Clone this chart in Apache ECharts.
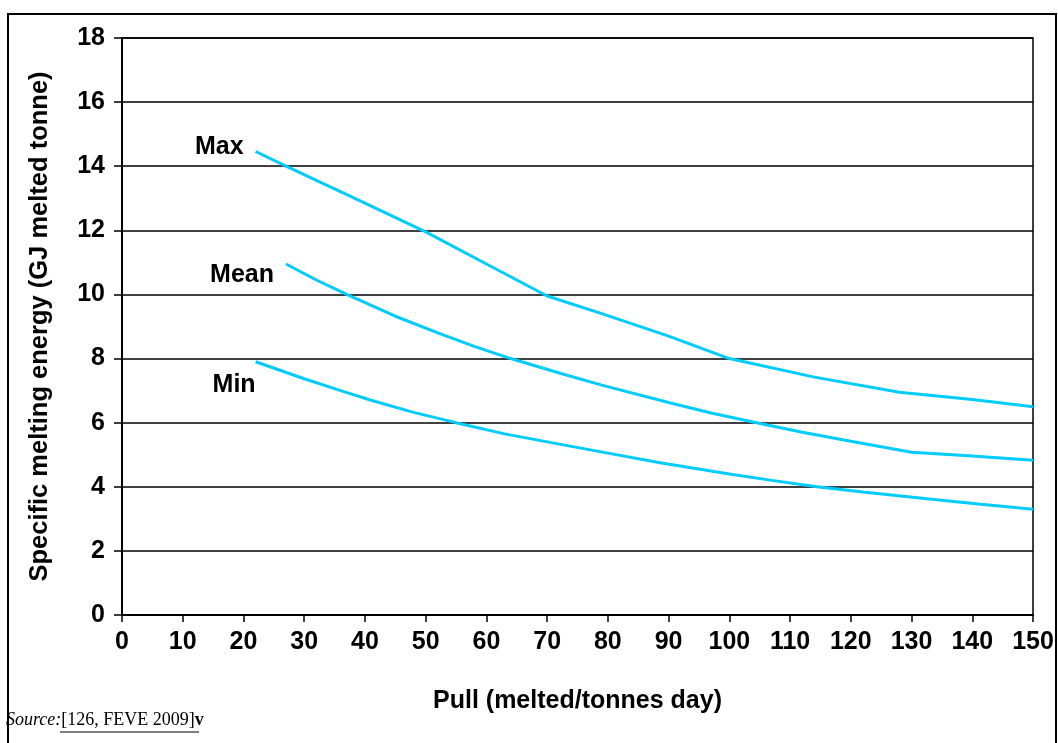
<!DOCTYPE html>
<html>
<head>
<meta charset="utf-8">
<script src="https://cdn.jsdelivr.net/npm/echarts@6/dist/echarts.min.js"></script>
<style>
html,body{margin:0;padding:0;background:#fff;}
#chart{width:1058px;height:743px;}
</style>
</head>
<body>
<div id="chart"></div>
<script>
const xTicks = [0,10,20,30,40,50,60,70,80,90,100,110,120,130,140,150];
const yTicks = [0,2,4,6,8,10,12,14,16,18];
const seriesNames = ['Max','Mean','Min'];
const maxX = [22,27,40,50,60,70,79,90,100,114,128,140,150];
const maxY = [14.46,14.0,12.85,11.95,10.95,9.95,9.4,8.7,8.0,7.42,6.95,6.72,6.5];
const meanX = [27,32,37,45,52,58,64,72,79,90,97,104.5,112,120,130,140,150];
const meanY = [10.95,10.45,10.0,9.32,8.8,8.38,8.0,7.55,7.17,6.63,6.3,6.0,5.7,5.42,5.08,4.96,4.83];
const minX = [22,30,36,41,48,55,63,72,80,88.6,100,107,114.4,122,132.5,141,150];
const minY = [7.9,7.37,7.0,6.7,6.32,6.0,5.65,5.33,5.05,4.75,4.4,4.2,4.0,3.84,3.63,3.46,3.3];

const font = 'Liberation Sans, Arial, sans-serif';
const lineColor = '#00CCFF';
const chart = echarts.init(document.getElementById('chart'));
function lineSeries(name, xs, ys){
  return {name:name, type:'line', data:xs.map((x,i)=>[x, ys[i]]), smooth:false,
    symbol:'none', lineStyle:{color:lineColor, width:3}};
}
chart.setOption({
  animation:false,
  backgroundColor:'#fff',
  grid:{left:122, top:38, right:25, bottom:128, show:true, borderColor:'#000', borderWidth:1.5},
  xAxis:{
    type:'value', min:xTicks[0], max:xTicks[xTicks.length-1], interval:10,
    name:'Pull (melted/tonnes day)', nameLocation:'middle', nameGap:74,
    nameTextStyle:{fontFamily:font, fontWeight:'bold', fontSize:25, color:'#000'},
    axisLine:{show:true, lineStyle:{color:'#000', width:2}},
    axisTick:{show:true, inside:false, length:7, lineStyle:{color:'#000', width:1.5}},
    axisLabel:{fontFamily:font, fontWeight:'bold', fontSize:25, color:'#000', margin:15},
    splitLine:{show:false}
  },
  yAxis:{
    type:'value', min:yTicks[0], max:yTicks[yTicks.length-1], interval:2,
    name:'Specific melting energy (GJ melted tonne)', nameLocation:'middle', nameGap:69,
    nameTextStyle:{fontFamily:font, fontWeight:'bold', fontSize:25.5, color:'#000'},
    axisLine:{show:true, lineStyle:{color:'#000', width:2}},
    axisTick:{show:true, inside:false, length:8, lineStyle:{color:'#000', width:1.5}},
    axisLabel:{fontFamily:font, fontWeight:'bold', fontSize:25, color:'#000', margin:17},
    splitLine:{show:true, lineStyle:{color:'#000', width:1.5}}
  },
  series:[
    lineSeries(seriesNames[0], maxX, maxY),
    lineSeries(seriesNames[1], meanX, meanY),
    lineSeries(seriesNames[2], minX, minY)
  ]
});

// series name labels placed next to each curve's first point
const starts = [[maxX[0],maxY[0]],[meanX[0],meanY[0]],[minX[0],minY[0]]];
const offs = [[-12,-4],[-12,11],[0,23]];
const labelGraphics = seriesNames.map((n,i)=>{
  const p = chart.convertToPixel({gridIndex:0}, starts[i]);
  return {type:'text', x:p[0]+offs[i][0], y:p[1]+offs[i][1], silent:true,
    style:{text:n, fontFamily:font, fontWeight:'bold', fontSize:25, fill:'#000', align:'right', verticalAlign:'middle'}};
});
chart.setOption({graphic:[
  {type:'rect', shape:{x:8, y:14, width:1048, height:760}, style:{fill:'none', stroke:'#000', lineWidth:2}, silent:true},
  {type:'text', left:6, top:711, style:{
    text:'{i|Source:}{u|[126, FEVE 2009]}{b|v}',
    rich:{
      i:{fontFamily:'Liberation Serif, Times New Roman, serif', fontStyle:'italic', fontSize:18, fill:'#000'},
      u:{fontFamily:'Liberation Serif, Times New Roman, serif', fontSize:18, fill:'#000'},
      b:{fontFamily:'Liberation Serif, Times New Roman, serif', fontWeight:'bold', fontSize:18, fill:'#000'}
    }}},
  {type:'line', shape:{x1:60, y1:732, x2:199, y2:732}, style:{stroke:'#000', lineWidth:1.2}}
].concat(labelGraphics)});
</script>
</body>
</html>
